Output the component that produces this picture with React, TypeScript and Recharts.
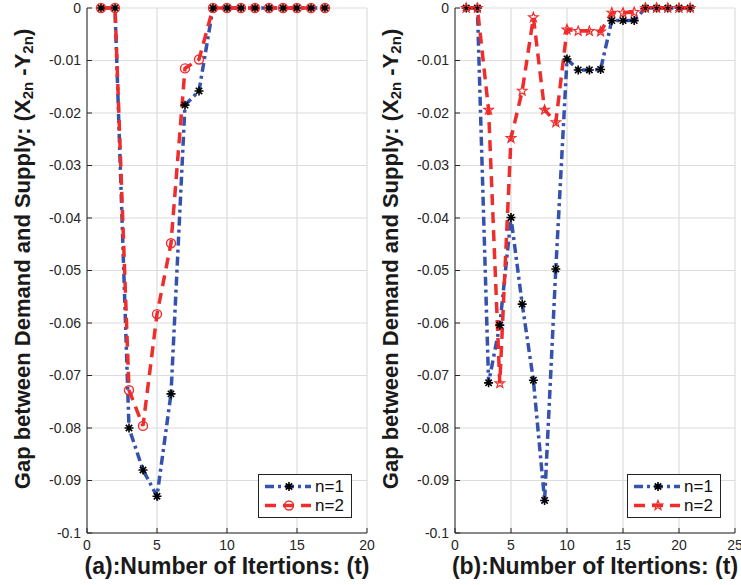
import React from "react";
import { LineChart, Line, XAxis, YAxis, CartesianGrid, Legend, Label } from "recharts";

// iterations and gaps
const itersA = [1, 2, 3, 4, 5, 6, 7, 8, 9, 10, 11, 12, 13, 14, 15, 16, 17];
const gapA_n1 = [0, 0, -0.08, -0.088, -0.093, -0.0735, -0.0185, -0.0158, 0, 0, 0, 0, 0, 0, 0, 0, 0];
const gapA_n2 = [0, 0, -0.0728, -0.0796, -0.0583, -0.0448, -0.0115, -0.0098, 0, 0, 0, 0, 0, 0, 0, 0, 0];

const itersB = [1, 2, 3, 4, 5, 6, 7, 8, 9, 10, 11, 12, 13, 14, 15, 16, 17, 18, 19, 20, 21];
const gapB_n1 = [0, 0, -0.0714, -0.0604, -0.0399, -0.0564, -0.0709, -0.0938, -0.0497, -0.0097, -0.0118, -0.0118, -0.0117, -0.0024, -0.0024, -0.0024, 0, 0, 0, 0, 0];
const gapB_n2 = [0, 0, -0.0194, -0.0715, -0.0248, -0.0158, -0.0018, -0.0194, -0.0218, -0.0041, -0.0044, -0.0044, -0.0045, -0.0009, -0.0009, -0.0008, 0, 0, 0, 0, 0];

const yTicks = [0, -0.01, -0.02, -0.03, -0.04, -0.05, -0.06, -0.07, -0.08, -0.09, -0.1];
const xTicksA = [0, 5, 10, 15, 20];
const xTicksB = [0, 5, 10, 15, 20, 25];
const seriesNames = ["n=1", "n=2"];

const blue = "#3552ad";
const red = "#ee2d2d";
const axisColor = "#262626";
const font = '"Liberation Sans", Arial, Helvetica, sans-serif';
const blueDash = "9 4 3 4";
const redDash = "11 7";

const Asterisk = ({ cx, cy }: any) => {
  const r = 4.5;
  const d = r * 0.707;
  return (
    <path
      d={`M${cx - r},${cy}L${cx + r},${cy}M${cx},${cy - r}L${cx},${cy + r}M${cx - d},${cy - d}L${cx + d},${cy + d}M${cx - d},${cy + d}L${cx + d},${cy - d}`}
      stroke="#000"
      strokeWidth={1.6}
      fill="none"
    />
  );
};

const Ring = ({ cx, cy }: any) => (
  <circle cx={cx} cy={cy} r={4.5} stroke={red} strokeWidth={1.4} fill="none" />
);

const Star = ({ cx, cy }: any) => {
  let d = "";
  for (let k = 0; k < 10; k++) {
    const rr = k % 2 === 0 ? 5 : 2.1;
    const a = -Math.PI / 2 + (k * Math.PI) / 5;
    d += (k === 0 ? "M" : "L") + (cx + rr * Math.cos(a)).toFixed(2) + "," + (cy + rr * Math.sin(a)).toFixed(2);
  }
  return <path d={d + "Z"} stroke={red} strokeWidth={1.2} fill="none" />;
};

const LegendBox = ({ second }: any) => {
  const rows = [
    { color: blue, dash: blueDash, Mark: Asterisk },
    { color: red, dash: redDash, Mark: second },
  ];
  return (
    <div style={{ border: "1px solid #222", background: "#fff", width: 92, padding: "2px 0", fontFamily: font, fontSize: 17, color: "#111" }}>
      {rows.map((r, i) => (
        <div key={i} style={{ display: "flex", alignItems: "center", height: 19, overflow: "hidden" }}>
          <svg width={56} height={19}>
            <line x1={6} y1={9.5} x2={52} y2={9.5} stroke={r.color} strokeWidth={3.5} strokeDasharray={r.dash} />
            <r.Mark cx={30} cy={9.5} />
          </svg>
          <span style={{ lineHeight: "19px" }}>{seriesNames[i]}</span>
        </div>
      ))}
    </div>
  );
};

const fmt = (v: number) => (v === 0 ? "0" : String(Number(v.toFixed(2))));

const Panel = ({ iters, n1, n2, xTicks, tag, second, legendLeft, legendTop }: any) => {
  const data = iters.map((t: number, i: number) => ({ t, n1: n1[i], n2: n2[i] }));
  const xMax = xTicks[xTicks.length - 1];
  return (
    <LineChart width={385} height={585} data={data} margin={{ top: 8, right: 18, bottom: 22, left: 0 }} style={{ fontFamily: font }}>
      <CartesianGrid stroke="#dcdcdc" strokeWidth={1.2} />
      <XAxis
        dataKey="t"
        type="number"
        domain={[0, xMax]}
        ticks={xTicks}
        interval={0}
        height={30}
        tickSize={-5}
        tickMargin={12}
        axisLine={{ stroke: axisColor }}
        tickLine={{ stroke: axisColor }}
        tick={{ fill: axisColor, fontSize: 14 }}
      >
        <Label
          content={() => (
            <text x={227} y={574} textAnchor="middle" fontSize={23} fontWeight="bold" fill="#1a1a1a" fontFamily={font}>
              {`(${tag}):Number of Itertions: (t)`}
            </text>
          )}
        />
      </XAxis>
      <XAxis xAxisId="top" orientation="top" type="number" domain={[0, xMax]} ticks={xTicks} interval={0} height={0} tick={false} tickSize={-5} axisLine={{ stroke: axisColor }} tickLine={{ stroke: axisColor }} />
      <YAxis
        type="number"
        domain={[-0.1, 0]}
        ticks={yTicks}
        interval={0}
        width={87}
        tickSize={-5}
        tickMargin={11}
        tickFormatter={fmt}
        axisLine={{ stroke: axisColor }}
        tickLine={{ stroke: axisColor }}
        tick={{ fill: axisColor, fontSize: 14 }}
      >
        <Label
          content={() => (
            <text x={24} y={259} transform="rotate(-90 24 259)" textAnchor="middle" dominantBaseline="middle" fontSize={22} fontWeight="bold" fill="#1a1a1a" fontFamily={font}>
              Gap between Demand and Supply: (X<tspan dy={5} fontSize={15}>2n</tspan>
              <tspan dy={-5}> -Y</tspan>
              <tspan dy={5} fontSize={15}>2n</tspan>
              <tspan dy={-5}>)</tspan>
            </text>
          )}
        />
      </YAxis>
      <YAxis yAxisId="right" orientation="right" type="number" domain={[-0.1, 0]} ticks={yTicks} interval={0} width={0} tick={false} tickSize={-5} axisLine={{ stroke: axisColor }} tickLine={{ stroke: axisColor }} />
      <Legend
        layout="vertical"
        align="center"
        verticalAlign="middle"
        wrapperStyle={{ left: legendLeft, top: legendTop, width: 94 }}
        content={() => <LegendBox second={second} />}
      />
      <Line
        dataKey="n1"
        name={seriesNames[0]}
        stroke={blue}
        strokeWidth={3.5}
        strokeDasharray={blueDash}
        dot={(p: any) => <Asterisk key={`a-${p.index}`} cx={p.cx} cy={p.cy} />}
        activeDot={false}
        isAnimationActive={false}
      />
      <Line
        dataKey="n2"
        name={seriesNames[1]}
        stroke={red}
        strokeWidth={3.5}
        strokeDasharray={redDash}
        dot={(p: any) => React.createElement(second, { key: `b-${p.index}`, cx: p.cx, cy: p.cy })}
        activeDot={false}
        isAnimationActive={false}
      />
    </LineChart>
  );
};

export default function App() {
  return (
    <div style={{ position: "fixed", left: 0, top: 0, width: 741, height: 585, background: "#fff", overflow: "hidden" }}>
      <div style={{ position: "absolute", left: 0, top: 0 }}>
        <Panel iters={itersA} n1={gapA_n1} n2={gapA_n2} xTicks={xTicksA} tag="a" second={Ring} legendLeft={258} legendTop={474} />
      </div>
      <div style={{ position: "absolute", left: 368, top: 0 }}>
        <Panel iters={itersB} n1={gapB_n1} n2={gapB_n2} xTicks={xTicksB} tag="b" second={Star} legendLeft={259} legendTop={474} />
      </div>
    </div>
  );
}
